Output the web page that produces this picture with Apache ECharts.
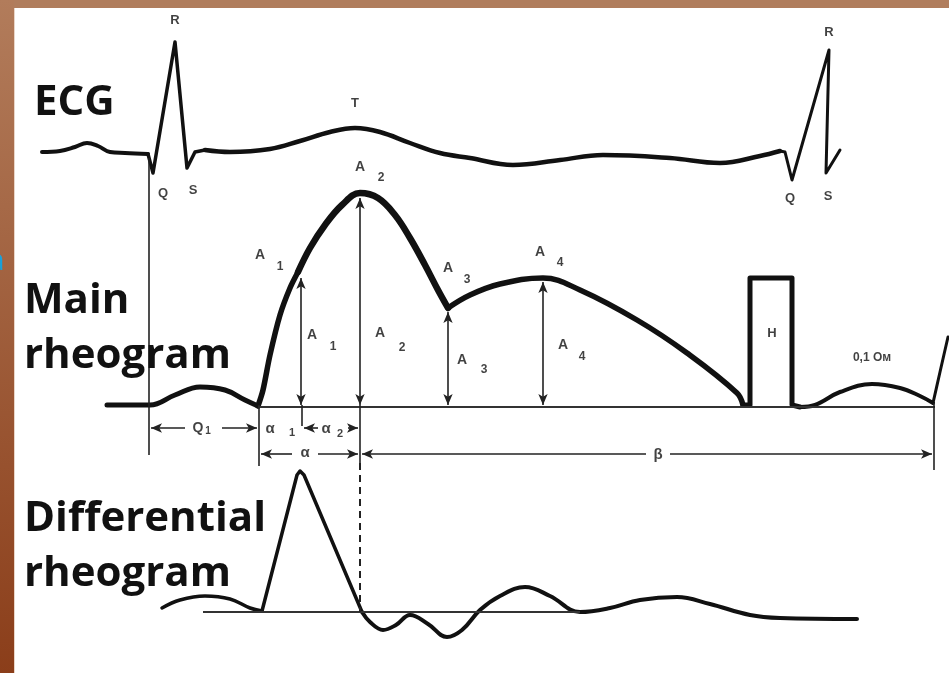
<!DOCTYPE html>
<html>
<head>
<meta charset="utf-8">
<script src="https://cdn.jsdelivr.net/npm/echarts@6/dist/echarts.min.js"></script>
<style>
  html, body { margin: 0; padding: 0; background: #fff; }
  #chart { width: 949px; height: 673px; }
</style>
</head>
<body>
<div id="chart"></div>
<script>
// diagram space: x = time (0..949), y = level (0..673, drawn top-down)
const ecgP = [[42, 152], [60, 151], [75, 147], [87, 143], [98, 146], [110, 152], [125, 153], [148, 154]]
const ecgQRS = [[148, 154], [153, 173], [175, 42], [187, 168], [195, 152], [205, 150]]
const ecgT = [[205, 150], [230, 152], [270, 149], [300, 141], [330, 132], [355, 128], [380, 132],
  [410, 143], [440, 153], [470, 158], [513, 165], [560, 160], [603, 155], [670, 158],
  [720, 163], [760, 156], [780, 151]]
const ecgQRS2 = [[780, 151], [785, 152], [792, 180], [829, 50], [826, 173], [840, 150]]

const mainPre = [[107, 405], [150, 405], [175, 395], [200, 387], [225, 390], [245, 400], [258, 406]]
const mainRise = [[258, 406], [263, 390], [270, 355], [280, 315], [290, 288], [298, 272]]
const mainSystole = [[298, 272], [310, 248], [325, 225], [342, 205], [360, 193], [378, 198],
  [395, 215], [410, 238], [425, 265], [438, 290], [448, 308]]
const mainDiastole = [[448, 308], [470, 295], [500, 284], [543, 278], [580, 290], [637, 320],
  [687, 353], [737, 393], [743, 405]]
const mainCal = [[743, 405], [750, 405], [750, 278], [792, 278], [792, 405], [800, 407]]
const mainPost = [[800, 407], [815, 405], [840, 392], [872, 384], [900, 388], [920, 396], [933, 403]]
const mainNext = [[933, 403], [940, 372], [948, 337]]

const diffPre = [[162, 608], [180, 600], [205, 596], [230, 599], [250, 608], [262, 611]]
const diffPeak = [[262, 611], [297, 475], [300, 471], [304, 475], [362, 612]]
const diffPost = [[362, 612], [370, 622], [383, 630], [396, 625], [410, 615], [428, 624],
  [447, 637], [462, 630], [480, 610], [500, 596], [525, 587], [550, 596], [580, 612],
  [610, 608], [640, 600], [677, 597], [710, 604], [750, 615], [780, 618], [857, 619]]

const mainBase = 407
const diffBase = 612
// amplitude markers: [x, top]
const ampMarks = [[301, 278], [360, 198], [448, 312], [543, 282]]

// small labels: [x, y, text, size]
const ecgLabels = [[175, 20, 'R', 13], [355, 103, 'T', 13], [163, 193, 'Q', 13], [193, 190, 'S', 13],
  [829, 32, 'R', 13], [790, 198, 'Q', 13], [828, 196, 'S', 13]]
const ampLabels = [[260, 255, 'A', 14], [280, 267, '1', 12], [360, 167, 'A', 14], [381, 178, '2', 12],
  [448, 268, 'A', 14], [467, 280, '3', 12], [540, 252, 'A', 14], [560, 263, '4', 12],
  [312, 335, 'A', 14], [333, 347, '1', 12], [380, 333, 'A', 14], [402, 348, '2', 12],
  [462, 360, 'A', 14], [484, 370, '3', 12], [563, 345, 'A', 14], [582, 357, '4', 12],
  [772, 333, 'H', 13], [872, 358, '0,1 Ом', 12]]
const intervalLabels = [[198, 428, 'Q', 14], [208, 431, '1', 10], [270, 429, 'α', 15], [292, 433, '1', 11],
  [326, 429, 'α', 15], [340, 434, '2', 11], [305, 453, 'α', 15], [658, 455, 'β', 15]]

const black = '#111'

function trace(data, smooth, width) {
  return {
    type: 'line', data, smooth, symbol: 'none', silent: true,
    lineStyle: { color: black, width, cap: 'round', join: 'round' }
  }
}

function seg(x1, y1, x2, y2, symbol, extra) {
  return [
    Object.assign({ coord: [x1, y1], symbol: symbol[0] }, extra || {}),
    { coord: [x2, y2], symbol: symbol[1] }
  ]
}

const guides = [
  seg(149, 158, 149, 455, ['none', 'none']),
  seg(259, 405, 259, 466, ['none', 'none']),
  seg(302, 405, 302, 426, ['none', 'none']),
  seg(360, 405, 360, 463, ['none', 'none']),
  seg(934, 403, 934, 470, ['none', 'none']),
  seg(360, 463, 360, diffBase, ['none', 'none'], { lineStyle: { type: [7, 5], width: 2 } }),
  // Q-interval row
  seg(185, 428, 151, 428, ['none', 'arrow']),
  seg(222, 428, 257, 428, ['none', 'arrow']),
  seg(318, 428, 304, 428, ['none', 'arrow']),
  seg(348, 428, 358, 428, ['none', 'arrow']),
  // alpha / beta row
  seg(292, 454, 261, 454, ['none', 'arrow']),
  seg(318, 454, 358, 454, ['none', 'arrow']),
  seg(646, 454, 362, 454, ['none', 'arrow']),
  seg(670, 454, 932, 454, ['none', 'arrow'])
]
ampMarks.forEach(m => guides.push(seg(m[0], mainBase - 2, m[0], m[1], ['arrow', 'arrow'])))

function labelData(list) {
  return list.map(l => ({
    value: [l[0], l[1]],
    label: { formatter: l[2], fontSize: l[3] }
  }))
}

const chart = echarts.init(document.getElementById('chart'))
chart.setOption({
  animation: false,
  backgroundColor: '#fff',
  grid: { left: 0, right: 0, top: 0, bottom: 0 },
  xAxis: { type: 'value', min: 0, max: 949, show: false },
  yAxis: { type: 'value', min: 0, max: 673, inverse: true, show: false },
  title: [
    { text: 'ECG', left: 34, top: 76 },
    { text: 'Main\nrheogram', left: 24, top: 274 },
    { text: 'Differential\nrheogram', left: 24, top: 492 }
  ].map(t => Object.assign(t, {
    padding: 0,
    textStyle: { fontFamily: 'Open Sans', fontWeight: 'bold', fontSize: 42, lineHeight: 55, color: black }
  })),
  graphic: [
    { type: 'rect', left: 0, top: 0, z: 100, shape: { width: 949, height: 8 }, style: { fill: '#b07d5d' } },
    {
      type: 'rect', left: 0, top: 0, z: 100, shape: { width: 14, height: 673 },
      style: {
        fill: new echarts.graphic.LinearGradient(0, 0, 0, 1, [
          { offset: 0, color: '#b27c5b' }, { offset: 1, color: '#8b3e1a' }
        ])
      }
    },
    { type: 'rect', left: 14, top: 8, z: 100, shape: { width: 1, height: 665 }, style: { fill: '#ead6c8' } },
    { type: 'text', x: -12, y: 246, z: 101, style: { text: 'a', fontSize: 30, fill: '#1aa0d8', fontFamily: 'Open Sans' } }
  ],
  series: [
    trace(ecgP, 0.4, 4),
    trace(ecgQRS, false, 3.5),
    trace(ecgT, 0.4, 4.5),
    trace(ecgQRS2, false, 3),
    trace(mainPre, 0.4, 5),
    trace(mainRise, 0.3, 5.5),
    trace(mainSystole, 0.4, 6.5),
    trace(mainDiastole, 0.4, 5.5),
    trace(mainCal, false, 5),
    trace(mainPost, 0.4, 4),
    trace(mainNext, 0.2, 3),
    trace(diffPre, 0.4, 3.5),
    trace(diffPeak, false, 3.5),
    trace(diffPost, 0.4, 4),
    {
      type: 'line',
      data: [[258, mainBase], [935, mainBase]],
      symbol: 'none', silent: true,
      lineStyle: { color: '#333', width: 2 },
      markLine: {
        silent: true,
        symbolSize: [7, 11],
        label: { show: false },
        lineStyle: { color: '#222', width: 1.6, type: 'solid' },
        data: guides
      }
    },
    {
      type: 'line',
      data: [[203, diffBase], [580, diffBase]],
      symbol: 'none', silent: true,
      lineStyle: { color: '#333', width: 2 }
    },
    {
      type: 'scatter', symbolSize: 0, silent: true,
      label: {
        show: true, position: 'inside', color: '#111', fontWeight: 'bold',
        fontFamily: 'Liberation Sans', textBorderWidth: 0
      },
      data: labelData(ecgLabels).concat(labelData(ampLabels)).concat(labelData(intervalLabels))
    }
  ]
})
</script>
</body>
</html>
